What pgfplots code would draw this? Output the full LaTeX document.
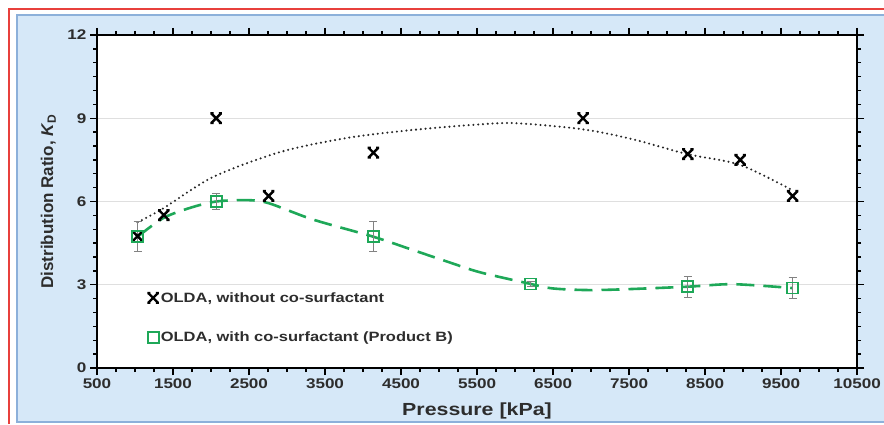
\documentclass[border=0pt]{standalone}
\usepackage{fontspec}
\setmainfont{Liberation Sans}[FakeStretch=1.22]
\newfontfamily\ylabfont{Liberation Sans}
\usepackage{pgfplots}
\pgfplotsset{compat=1.18}
\definecolor{panelfill}{RGB}{214,232,248}
\definecolor{panelborder}{RGB}{140,176,218}
\definecolor{redframe}{RGB}{232,64,60}
\definecolor{kgreen}{RGB}{30,168,88}
\definecolor{txt}{RGB}{45,45,45}
\definecolor{errgray}{RGB}{130,130,130}
\pgfdeclareplotmark{xbar}{%
  \pgfpathmoveto{\pgfqpoint{-\pgfplotmarksize}{-\pgfplotmarksize}}%
  \pgfpathlineto{\pgfqpoint{\pgfplotmarksize}{\pgfplotmarksize}}%
  \pgfpathmoveto{\pgfqpoint{-\pgfplotmarksize}{\pgfplotmarksize}}%
  \pgfpathlineto{\pgfqpoint{\pgfplotmarksize}{-\pgfplotmarksize}}%
  \pgfpathmoveto{\pgfqpoint{-1.2\pgfplotmarksize}{\pgfplotmarksize}}%
  \pgfpathlineto{\pgfqpoint{-0.55\pgfplotmarksize}{\pgfplotmarksize}}%
  \pgfpathmoveto{\pgfqpoint{0.55\pgfplotmarksize}{\pgfplotmarksize}}%
  \pgfpathlineto{\pgfqpoint{1.2\pgfplotmarksize}{\pgfplotmarksize}}%
  \pgfpathmoveto{\pgfqpoint{-1.2\pgfplotmarksize}{-\pgfplotmarksize}}%
  \pgfpathlineto{\pgfqpoint{-0.55\pgfplotmarksize}{-\pgfplotmarksize}}%
  \pgfpathmoveto{\pgfqpoint{0.55\pgfplotmarksize}{-\pgfplotmarksize}}%
  \pgfpathlineto{\pgfqpoint{1.2\pgfplotmarksize}{-\pgfplotmarksize}}%
  \pgfusepathqstroke}
\pgfplotstableread{
x y
1034 4.75
1379 5.51
2068 9.00
2758 6.20
4137 7.76
6895 9.00
8274 7.71
8963 7.50
9653 6.20
}\without
\pgfplotstableread{
x y e
1034 4.73 0.54
2068 6.00 0.30
4137 4.73 0.54
6205 3.03 0.08
8274 2.93 0.38
9653 2.88 0.37
}\withco
\pgfplotstableread{
x y
1034 5.25
1370 5.75
2026 6.88
2908 7.78
3789 8.29
4658 8.58
5539 8.78
6026 8.82
6895 8.60
7553 8.24
8263 7.71
8960 7.32
9653 6.40
}\trendA
\pgfplotstableread{
x y
1034 4.73
1370 5.40
1724 5.77
2068 6.00
2474 6.05
2758 5.94
3342 5.35
4137 4.73
4658 4.25
5145 3.80
5539 3.45
6205 3.03
6487 2.87
6921 2.81
7368 2.83
8274 2.93
8868 3.02
9653 2.88
}\trendB
\begin{document}
\begin{tikzpicture}[x=1bp,y=1bp]
\useasboundingbox (0,0) rectangle (884,424);
\fill[white] (0,0) rectangle (884,424);
\fill[panelfill] (17,2) rectangle (884,409);
\draw[panelborder, line width=2.5bp] (884,409) -- (17,409) -- (17,2) -- (884,2);
\draw[redframe, line width=1.2bp] (9,0) -- (9,415) -- (884,415);
\begin{axis}[
  at={(97bp,56bp)}, anchor=south west,
  scale only axis, width=760bp, height=333bp,
  xmin=500, xmax=10500, ymin=0, ymax=12,
  xtick={500,1500,...,10500}, ytick={0,3,6,9,12},
  scaled ticks=false,
  minor x tick num=3, minor y tick num=5,
  tick align=outside,
  major tick length=7bp, minor tick length=4bp,
  every tick/.style={black, line width=1.3bp},
  axis line style={black, line width=2.5bp},
  axis background/.style={fill=white},
  ymajorgrids, grid style={gray!25, line width=1.2bp},
  /pgf/number format/1000 sep={},
  /pgf/number format/assume math mode=true,
  ticklabel style={font=\bfseries\fontsize{14bp}{16bp}\selectfont, text=txt},
  xlabel={Pressure [kPa]},
  xlabel style={at={(axis description cs:0.5,0)}, anchor=base, yshift=-47bp,
    font=\bfseries\fontsize{17.5bp}{20bp}\selectfont, text=txt},
  ylabel={Distribution Ratio, \textit{K}\raisebox{-0.3ex}{\fontsize{12bp}{12bp}\selectfont D}},
  ylabel style={at={(axis description cs:-0.064,0.5)}, anchor=center,
    font=\ylabfont\bfseries\fontsize{17bp}{20bp}\selectfont, text=txt},
  legend style={draw=none, fill=none, at={(axis description cs:0.066,0.234)},
    anchor=north west, font=\bfseries\fontsize{13.5bp}{15bp}\selectfont, text=txt,
    row sep=24bp, inner sep=0pt},
  legend cell align=left,
]
\addplot[black!85, line width=2.3bp, line cap=round, dash pattern=on 0bp off 4.8bp, smooth, tension=0.5, forget plot] table {\trendA};
\addplot[kgreen, line width=2.6bp, dash pattern=on 18bp off 9bp, smooth, tension=0.5, forget plot] table {\trendB};
\addplot[only marks, mark=xbar, mark size=4.8bp, black, line width=2.4bp] table {\without};
\addlegendentry{OLDA, without co-surfactant}
\addplot[only marks, mark=square, mark size=5.5bp, kgreen, line width=1.8bp,
  error bars/.cd, y dir=both, y explicit,
  error bar style={errgray, line width=1.2bp},
  error mark options={rotate=90, errgray, mark size=4bp, line width=1.2bp}]
  table[x=x, y=y, y error=e] {\withco};
\addlegendentry{OLDA, with co-surfactant (Product B)}
\end{axis}
\end{tikzpicture}
\end{document}
